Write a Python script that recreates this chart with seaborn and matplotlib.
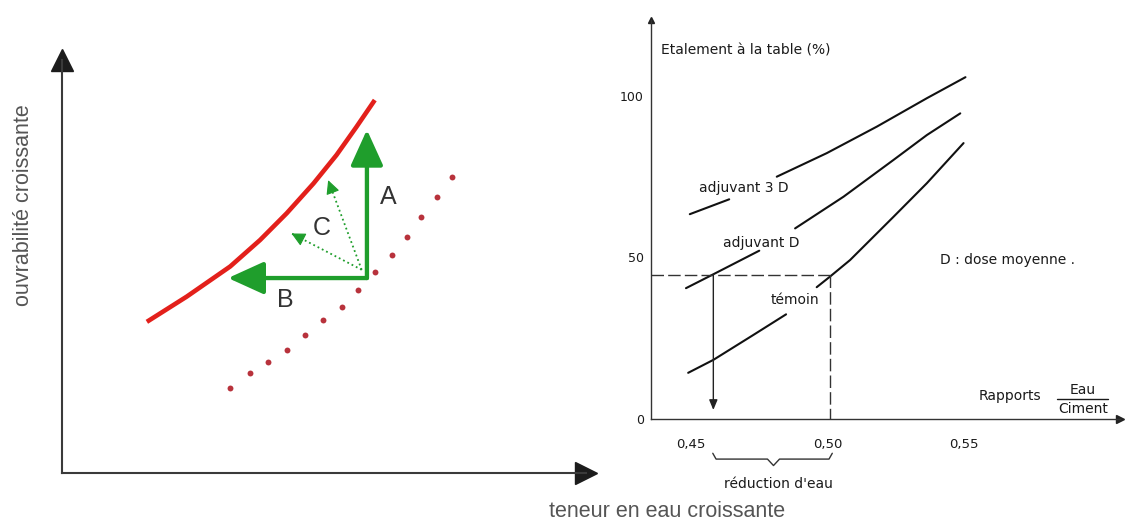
import matplotlib
matplotlib.use('Agg')
import numpy as np
import pandas as pd
import seaborn as sns
import matplotlib.pyplot as plt

# --- Schéma de gauche (unités arbitraires 0-10) ---
courbe_x = [1.62, 2.38, 3.21, 3.78, 4.29, 4.80, 5.24, 5.62, 5.97]
courbe_y = [3.66, 4.27, 5.00, 5.64, 6.29, 7.01, 7.70, 8.38, 9.03]

pointilles_x = [3.21, 3.59, 3.94, 4.29, 4.64, 4.99, 5.34, 5.65, 5.97, 6.29, 6.58, 6.86, 7.15, 7.44]
pointilles_y = [2.05, 2.41, 2.69, 2.98, 3.34, 3.70, 4.03, 4.43, 4.87, 5.28, 5.72, 6.21, 6.69, 7.17]

origine = (5.82, 4.72)
fleche_A = (5.82, 8.31)
fleche_B = (3.17, 4.72)
origine_C = (5.72, 4.92)
fleches_C = [(5.08, 7.09), (4.38, 5.80)]

# --- Graphique de droite : étalement (%) vs E/C ---
temoin_x = [0.4490, 0.4582, 0.4728, 0.4848, None, 0.4960, 0.5009, 0.5082, 0.5241, 0.5363, 0.5497]
temoin_y = [14.3, 18.3, 26.0, 32.4, None, 40.8, 44.1, 49.2, 62.6, 73.0, 85.4]
adjD_x = [0.4482, 0.4582, 0.4750, None, 0.4881, 0.5058, 0.5241, 0.5363, 0.5485]
adjD_y = [40.5, 44.8, 52.1, None, 59.0, 68.8, 80.2, 87.9, 94.6]
adj3D_x = [0.4496, 0.4640, None, 0.4814, 0.4997, 0.5180, 0.5363, 0.5504]
adj3D_y = [63.4, 68.0, None, 75.0, 82.3, 90.5, 99.3, 105.8]

etalement_lu = 44.7
ec_temoin = 0.5009
ec_adjuvant = 0.4582

x_ticks = [0.45, 0.50, 0.55]
x_ticklabels = ['0,45', '0,50', '0,55']
y_ticks = [0, 50, 100]
y_ticklabels = ['0', '50', '100']


def segments(nom, xs, ys):
    rows = []
    seg = 0
    for x, y in zip(xs, ys):
        if x is None:
            seg += 1
            continue
        rows.append({'x': x, 'y': y, 'seg': f'{nom}_{seg}'})
    return rows


df = pd.DataFrame(segments('temoin', temoin_x, temoin_y)
                  + segments('adjD', adjD_x, adjD_y)
                  + segments('adj3D', adj3D_x, adj3D_y))

sns.set_style('white')
plt.rcParams['font.family'] = ['Liberation Sans', 'DejaVu Sans']

fig = plt.figure(figsize=(11.29, 5.29), dpi=100)
axL = fig.add_axes([0.0549, 0.1059, 0.4641, 0.7807])
axR = fig.add_axes([0.5766, 0.2079, 0.4154, 0.7543])

# ---------------- gauche ----------------
axL.set_xlim(0, 10)
axL.set_ylim(0, 10)
axL.set_xticks([])
axL.set_yticks([])
for s in ['top', 'right']:
    axL.spines[s].set_visible(False)
for s in ['left', 'bottom']:
    axL.spines[s].set_color('#3a3a3a')
    axL.spines[s].set_linewidth(1.5)
axL.plot([10], [0], '>', ms=16, color='#1c1c1c', clip_on=False)
axL.plot([0], [10], '^', ms=16, color='#1c1c1c', clip_on=False)

sns.lineplot(x=courbe_x, y=courbe_y, ax=axL, color='#e3201b', lw=3.3, sort=False,
             solid_joinstyle='round', solid_capstyle='butt')
sns.scatterplot(x=pointilles_x, y=pointilles_y, ax=axL, color='#b8323c', s=18, linewidth=0)

vert = '#1f9e2c'
for tip in [fleche_A, fleche_B]:
    axL.annotate('', xy=tip, xytext=origine,
                 arrowprops=dict(arrowstyle='-|>,head_length=1.1,head_width=0.5',
                                 color=vert, lw=3.1, mutation_scale=20,
                                 shrinkA=0, shrinkB=0))
# fleches C : trait pointillé + pointe pleine
for tip in fleches_C:
    axL.plot([origine_C[0], tip[0]], [origine_C[1], tip[1]], ls=':', lw=1.3, color=vert)
    recul = (tip[0] + 0.05 * (origine_C[0] - tip[0]), tip[1] + 0.05 * (origine_C[1] - tip[1]))
    axL.annotate('', xy=tip, xytext=recul,
                 arrowprops=dict(arrowstyle='-|>,head_length=0.6,head_width=0.3',
                                 color=vert, lw=0.8, mutation_scale=14,
                                 shrinkA=0, shrinkB=0))

axL.text(6.23, 6.69, 'A', fontsize=18, color='#333333', ha='center', va='center')
axL.text(4.26, 4.19, 'B', fontsize=18, color='#333333', ha='center', va='center')
axL.text(4.95, 5.93, 'C', fontsize=18, color='#333333', ha='center', va='center')

axL.text(-0.73, 6.49, 'ouvrabilité croissante', rotation=90, fontsize=15.5,
         color='#555555', ha='center', va='center')
axL.text(11.55, -0.94, 'teneur en eau croissante', fontsize=15.5,
         color='#555555', ha='center', va='center')

# ---------------- droite ----------------
police = ['DejaVu Sans']
encre = '#1a1a1a'
axR.set_xlim(0.4354, 0.6069)
axR.set_ylim(0, 123.5)
for s in ['top', 'right']:
    axR.spines[s].set_visible(False)
for s in ['left', 'bottom']:
    axR.spines[s].set_color('#333333')
    axR.spines[s].set_linewidth(1.0)

sns.lineplot(data=df, x='x', y='y', units='seg', estimator=None, sort=False,
             color='#111111', lw=1.5, ax=axR, legend=False)

axR.plot([0.4354, ec_temoin], [etalement_lu, etalement_lu], ls=(0, (9, 3)), color='#333333', lw=1.0)
axR.plot([ec_temoin, ec_temoin], [etalement_lu, 0], ls=(0, (9, 3)), color='#333333', lw=1.0)
axR.annotate('', xy=(ec_adjuvant, 2.8), xytext=(ec_adjuvant, etalement_lu),
             arrowprops=dict(arrowstyle='-|>,head_length=0.6,head_width=0.25',
                             color='#222222', lw=1.0, mutation_scale=10,
                             shrinkA=0, shrinkB=0))

axR.plot([0.6069], [0], '>', ms=6, color='#222222', clip_on=False)
axR.plot([0.4354], [123.5], '^', ms=4, color='#222222', clip_on=False)

axR.set_xticks(x_ticks)
axR.set_xticklabels(x_ticklabels)
axR.set_yticks(y_ticks)
axR.set_yticklabels(y_ticklabels)
axR.tick_params(axis='x', direction='in', length=7, width=1, pad=14, labelsize=9.5, colors=encre)
axR.tick_params(axis='y', direction='in', length=7, width=1, pad=5, labelsize=9, colors=encre)
for lab in axR.get_xticklabels() + axR.get_yticklabels():
    lab.set_fontfamily(police)
axR.set_xlabel('')
axR.set_ylabel('')

kw = dict(family=police, fontsize=10, color=encre)
axR.text(0.4390, 114.2, 'Etalement à la table (%)', ha='left', va='center', **kw)
axR.text(0.4695, 71.4, 'adjuvant 3 D', ha='center', va='center', **kw)
axR.text(0.4759, 54.6, 'adjuvant D', ha='center', va='center', **kw)
axR.text(0.4881, 36.8, 'témoin', ha='center', va='center', **kw)
axR.text(0.5656, 49.1, 'D : dose moyenne .', ha='center', va='center', **kw)
axR.text(0.5668, 7.0, 'Rapports', ha='center', va='center', **kw)
axR.text(0.5934, 9.0, 'Eau', ha='center', va='center', **kw)
axR.text(0.5934, 3.0, 'Ciment', ha='center', va='center', **kw)
axR.plot([0.5840, 0.6027], [6.2, 6.2], color=encre, lw=1.0)

accolade_x = [0.4580, 0.4592, 0.4780, 0.4802, 0.4824, 0.5005, 0.5017]
accolade_y = [-10.6, -12.4, -12.4, -14.4, -12.4, -12.4, -10.6]
axR.plot(accolade_x, accolade_y, color='#333333', lw=1.0, clip_on=False)
axR.text(0.4820, -20.0, "réduction d'eau", ha='center', va='center', **kw)

fig.savefig('out.png', dpi=100)
